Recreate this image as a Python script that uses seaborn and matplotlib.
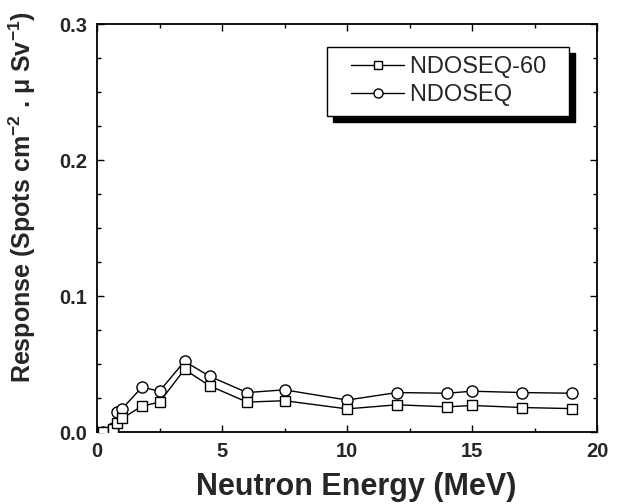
import matplotlib
matplotlib.use("Agg")
import matplotlib.pyplot as plt
import seaborn as sns
import pandas as pd
from matplotlib.ticker import MultipleLocator
from matplotlib.legend_handler import HandlerLine2D
from matplotlib.lines import Line2D

sns.set_theme(style="ticks")
plt.rcParams['font.family'] = ['Liberation Sans', 'DejaVu Sans']
plt.rcParams['mathtext.fontset'] = 'custom'
plt.rcParams['mathtext.bf'] = 'Liberation Sans:bold'
plt.rcParams['mathtext.rm'] = 'Liberation Sans:bold'
plt.rcParams['mathtext.default'] = 'bf'

energy = [0.25, 0.65, 0.8, 1.0, 1.8, 2.5, 3.5, 4.5, 6.0, 7.5, 10.0, 12.0, 14.0, 15.0, 17.0, 19.0]
ndoseq60 = [0.0, 0.002, 0.0065, 0.010, 0.019, 0.022, 0.046, 0.034, 0.022, 0.023, 0.017, 0.020, 0.0185, 0.0195, 0.018, 0.0172]
ndoseq = [0.0, 0.003, 0.015, 0.017, 0.033, 0.030, 0.052, 0.041, 0.029, 0.031, 0.0235, 0.029, 0.0285, 0.030, 0.029, 0.0285]
series_names = ["NDOSEQ-60", "NDOSEQ"]
x_ticks = [0, 5, 10, 15, 20]
y_ticks = [0.0, 0.1, 0.2, 0.3]

df = pd.DataFrame({"E": energy, "a": ndoseq60, "b": ndoseq})

fig = plt.figure(figsize=(6.22, 5.04), dpi=100)
ax = fig.add_axes([97/622, 1-432/504, 500/622, 408/504])

sns.lineplot(data=df, x="E", y="b", ax=ax, color="black", lw=1.0,
             marker="o", markersize=8.0, markerfacecolor="white",
             markeredgecolor="black", markeredgewidth=1.0, zorder=3)
sns.lineplot(data=df, x="E", y="a", ax=ax, color="black", lw=1.0,
             marker="s", markersize=6.8, markerfacecolor="white",
             markeredgecolor="black", markeredgewidth=1.0, zorder=4)

ax.set_xlim(0, 20)
ax.set_ylim(0, 0.3)
ax.xaxis.set_minor_locator(MultipleLocator(2.5))
ax.yaxis.set_minor_locator(MultipleLocator(0.025))
ax.set_xticks(x_ticks)
ax.set_xticklabels([str(t) for t in x_ticks])
ax.set_yticks(y_ticks)
ax.set_yticklabels([f"{t:.1f}" for t in y_ticks])
ax.tick_params(which="both", direction="in", top=True, right=True, width=1.0, color="black")
ax.tick_params(which="major", length=5, labelsize=14.5)
ax.tick_params(axis="x", which="major", pad=7)
ax.tick_params(axis="y", which="major", pad=7)
ax.tick_params(which="minor", length=3)
for lab in ax.get_xticklabels() + ax.get_yticklabels():
    lab.set_fontweight("bold")
for s in ax.spines.values():
    s.set_linewidth(1.3)
    s.set_color("black")

ax.set_xlabel("Neutron Energy (MeV)", fontsize=22, fontweight="bold")
ax.set_ylabel(r"Response (Spots cm$^{-2}$ . μ Sv$^{-1}$)", fontsize=18, fontweight="bold")
ax.xaxis.set_label_coords(0.518, -0.097)
ax.yaxis.set_label_coords(-0.118, 0.577)

h1 = Line2D([], [], color="black", lw=1.0, marker="s", markersize=6.0,
            markerfacecolor="white", markeredgecolor="black", markeredgewidth=1.0)
h2 = Line2D([], [], color="black", lw=1.0, marker="o", markersize=6.5,
            markerfacecolor="white", markeredgecolor="black", markeredgewidth=1.0)
hm = {h1: HandlerLine2D(xpad=0.62), h2: HandlerLine2D(xpad=0.62)}
leg = ax.legend([h1, h2], [series_names[0] + "  ", series_names[1] + "  "],
                handler_map=hm,
                loc="upper left", bbox_to_anchor=(0.46, 0.944), borderaxespad=0,
                fontsize=17, frameon=True, fancybox=False, edgecolor="black",
                framealpha=1, handlelength=2.86, handletextpad=0.25,
                borderpad=0.4, labelspacing=0.25,
                shadow={'ox': 4.5, 'oy': -4.5, 'color': 'black', 'alpha': 1})
leg.get_frame().set_linewidth(1.0)

fig.savefig("out.png", dpi=100)
